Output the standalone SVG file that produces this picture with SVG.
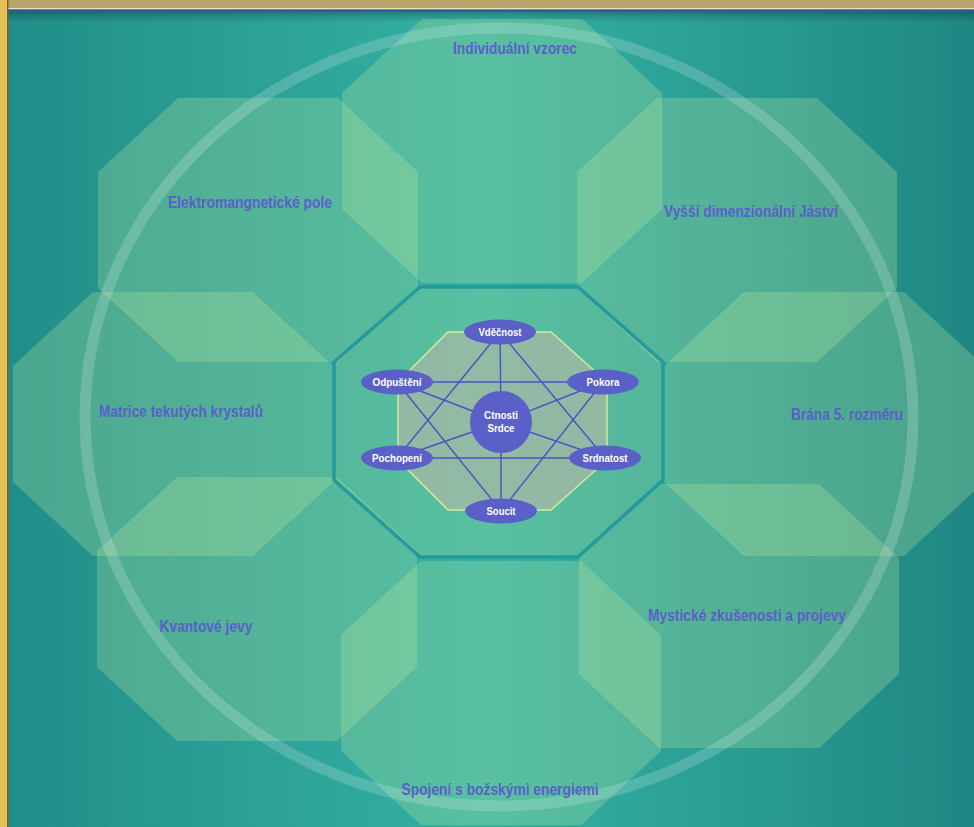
<svg xmlns="http://www.w3.org/2000/svg" xmlns:xlink="http://www.w3.org/1999/xlink" width="974" height="827" viewBox="0 0 974 827">
<defs>
<linearGradient id="bg" x1="0" y1="0" x2="1" y2="0">
<stop offset="0" stop-color="#218d88"/>
<stop offset="0.5" stop-color="#35b2a4"/>
<stop offset="1" stop-color="#1f8783"/>
</linearGradient>
<linearGradient id="shade" x1="0" y1="0" x2="0" y2="1">
<stop offset="0" stop-color="#000" stop-opacity="0.25"/>
<stop offset="1" stop-color="#000" stop-opacity="0"/>
</linearGradient>
<polygon id="oct" points="80,0 240,0 320,74 320,190 240,264 80,264 0,190 0,74"/>
<style>
.oct{fill:#bde8a0;fill-opacity:0.27;}
.lbl{font-family:"Liberation Sans",Arial,sans-serif;font-weight:bold;font-size:16px;fill:#5b5fc9;text-anchor:middle;}
.nd{fill:#5a60c8;}
.nt{font-family:"Liberation Sans",Arial,sans-serif;font-weight:bold;font-size:11.5px;fill:#ffffff;text-anchor:middle;}
.ln{stroke:#4b52c4;stroke-width:1.4;fill:none;}
</style>
</defs>
<rect x="0" y="0" width="974" height="827" fill="url(#bg)"/>
<rect x="0" y="12" width="974" height="10" fill="url(#shade)"/>
<g id="octagons">
<g id="oct-top"><use xlink:href="#oct" class="oct" x="342" y="19"/></g>
<g id="oct-ul"><use xlink:href="#oct" class="oct" x="98" y="98"/></g>
<g id="oct-ur"><use xlink:href="#oct" class="oct" x="577" y="98"/></g>
<g id="oct-l"><use xlink:href="#oct" class="oct" x="13" y="292"/></g>
<g id="oct-r"><use xlink:href="#oct" class="oct" x="664" y="292"/></g>
<g id="oct-ll"><use xlink:href="#oct" class="oct" x="97" y="477"/></g>
<g id="oct-lr"><use xlink:href="#oct" class="oct" x="579" y="484"/></g>
<g id="oct-b"><use xlink:href="#oct" class="oct" x="341" y="561"/></g>
</g>
<ellipse cx="499" cy="417" rx="414" ry="389" fill="none" stroke="#ffffff" stroke-opacity="0.18" stroke-width="11"/>
<g id="center-oct">
<polygon points="420,287 578,287 663,362 663,480 578,557 420,557 334,480 334,362" fill="#bde8a0" fill-opacity="0.27" stroke="#259a9c" stroke-width="3.5"/>
<polygon points="448,332 551,332 607,382 607,460 551,510 448,510 398,460 398,382" fill="#9db8a4" fill-opacity="0.85" stroke="#cfee98" stroke-width="1.5"/>
</g>
<g id="connectors">
<line class="ln" x1="500" y1="332" x2="397" y2="458"/>
<line class="ln" x1="397" y1="458" x2="605" y2="458"/>
<line class="ln" x1="605" y1="458" x2="500" y2="332"/>
<line class="ln" x1="501" y1="511" x2="397" y2="382"/>
<line class="ln" x1="397" y1="382" x2="603" y2="382"/>
<line class="ln" x1="603" y1="382" x2="501" y2="511"/>
<line class="ln" x1="501" y1="422" x2="500" y2="332"/>
<line class="ln" x1="501" y1="422" x2="501" y2="511"/>
<line class="ln" x1="501" y1="422" x2="397" y2="382"/>
<line class="ln" x1="501" y1="422" x2="603" y2="382"/>
<line class="ln" x1="501" y1="422" x2="397" y2="458"/>
<line class="ln" x1="501" y1="422" x2="605" y2="458"/>
</g>
<g id="n-center"><circle class="nd" cx="501" cy="422" r="31"/><text class="nt" x="501" y="418.5" textLength="34" lengthAdjust="spacingAndGlyphs">Ctnosti</text><text class="nt" x="501" y="432" textLength="27" lengthAdjust="spacingAndGlyphs">Srdce</text></g>
<g id="n-vdecnost"><ellipse class="nd" cx="500" cy="332" rx="36" ry="12.5"/><text class="nt" x="500" y="336" textLength="43" lengthAdjust="spacingAndGlyphs">Vděčnost</text></g>
<g id="n-odpusteni"><ellipse class="nd" cx="397" cy="382" rx="36" ry="12.5"/><text class="nt" x="397" y="386" textLength="49" lengthAdjust="spacingAndGlyphs">Odpuštění</text></g>
<g id="n-pokora"><ellipse class="nd" cx="603" cy="382" rx="36" ry="12.5"/><text class="nt" x="603" y="386" textLength="33" lengthAdjust="spacingAndGlyphs">Pokora</text></g>
<g id="n-pochopeni"><ellipse class="nd" cx="397" cy="458" rx="36" ry="12.5"/><text class="nt" x="397" y="462" textLength="50" lengthAdjust="spacingAndGlyphs">Pochopení</text></g>
<g id="n-srdnatost"><ellipse class="nd" cx="605" cy="458" rx="36" ry="12.5"/><text class="nt" x="605" y="462" textLength="45" lengthAdjust="spacingAndGlyphs">Srdnatost</text></g>
<g id="n-soucit"><ellipse class="nd" cx="501" cy="511" rx="36" ry="12.5"/><text class="nt" x="501" y="515" textLength="29" lengthAdjust="spacingAndGlyphs">Soucit</text></g>
<g id="labels">
<text class="lbl" x="515" y="54" textLength="124" lengthAdjust="spacingAndGlyphs">Individuální vzorec</text>
<text class="lbl" x="250" y="208" textLength="164" lengthAdjust="spacingAndGlyphs">Elektromangnetické pole</text>
<text class="lbl" x="751" y="217" textLength="174" lengthAdjust="spacingAndGlyphs">Vyšší dimenzionální Jáství</text>
<text class="lbl" x="181" y="417" textLength="164" lengthAdjust="spacingAndGlyphs">Matrice tekutých krystalů</text>
<text class="lbl" x="847" y="420" textLength="112" lengthAdjust="spacingAndGlyphs">Brána 5. rozměru</text>
<text class="lbl" x="206" y="632" textLength="93" lengthAdjust="spacingAndGlyphs">Kvantové jevy</text>
<text class="lbl" x="747" y="621" textLength="198" lengthAdjust="spacingAndGlyphs">Mystické zkušenosti a projevy</text>
<text class="lbl" x="500" y="795" textLength="197" lengthAdjust="spacingAndGlyphs">Spojení s božskými energiemi</text>
</g>
<g id="frame">
<rect x="0" y="0" width="974" height="8" fill="#b9a56b"/>
<rect x="0" y="8" width="974" height="1.5" fill="#efe3b5"/>
<rect x="0" y="9.5" width="974" height="2.5" fill="#2f5b94"/>
<rect x="0" y="0" width="7" height="827" fill="#e3c25a"/>
<rect x="7" y="0" width="1.5" height="827" fill="#8a5a22"/>
</g>
</svg>
